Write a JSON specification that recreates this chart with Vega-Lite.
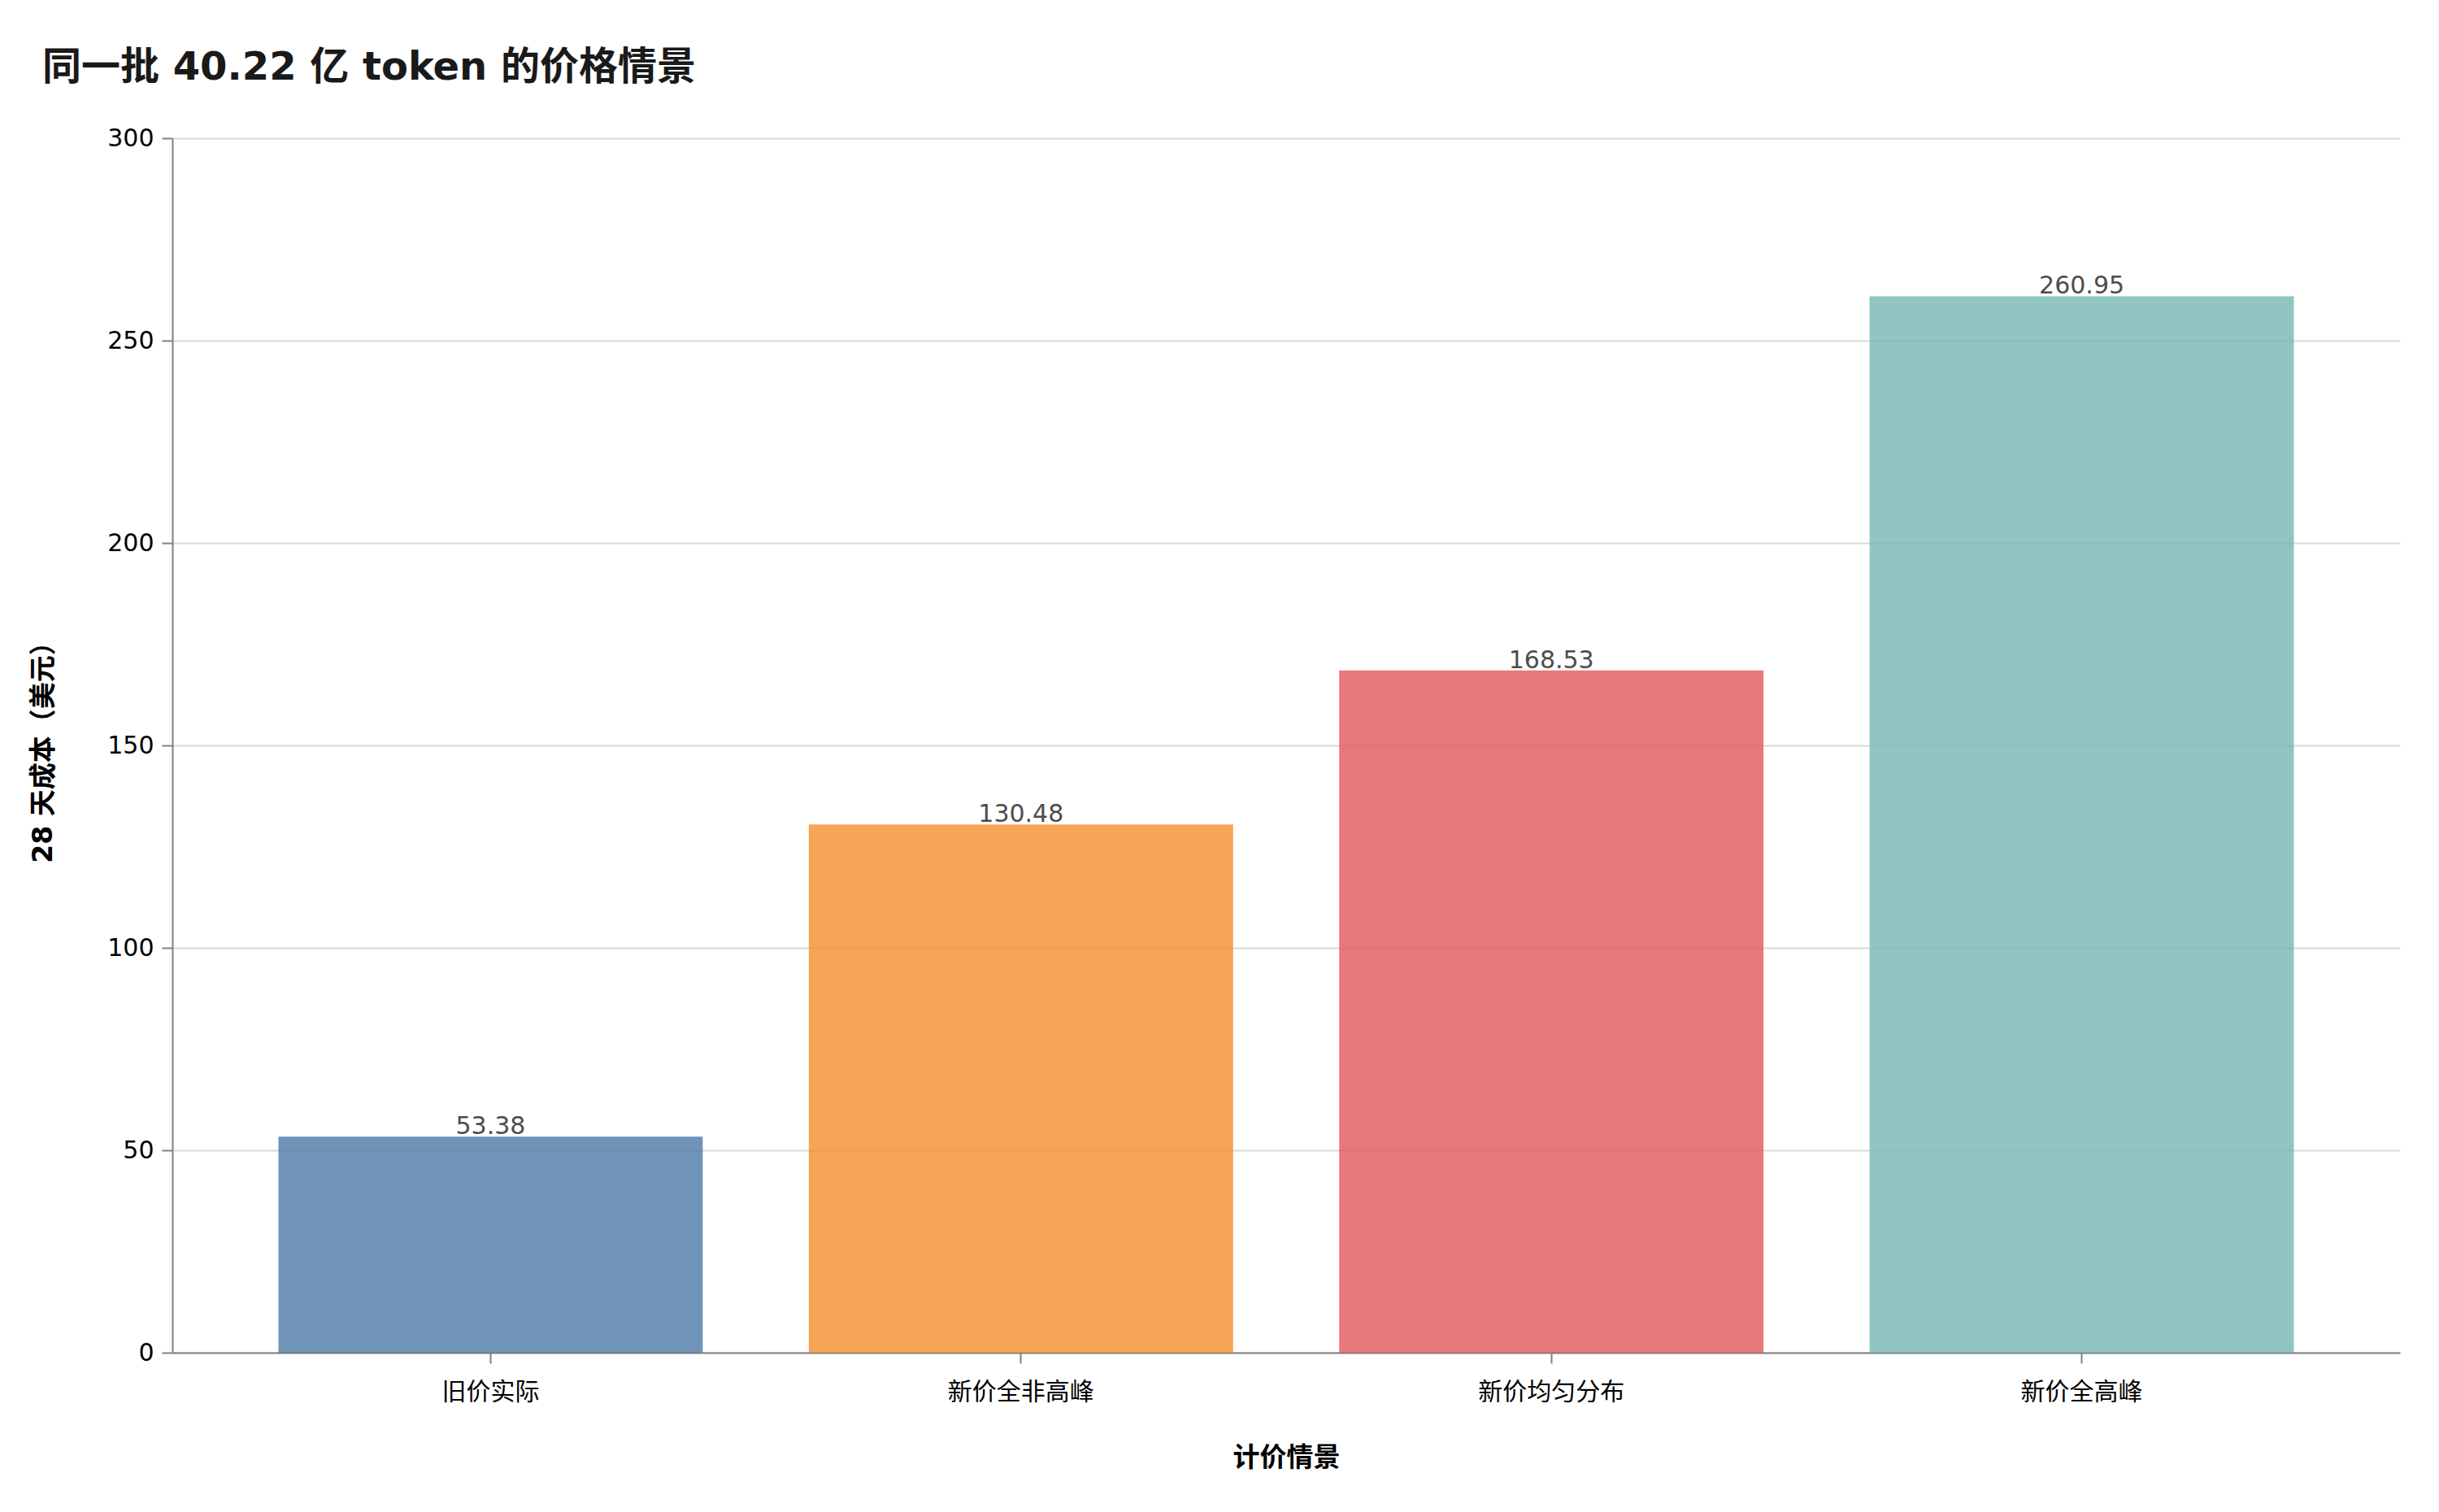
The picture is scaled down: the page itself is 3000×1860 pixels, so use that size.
{
  "$schema": "https://vega.github.io/schema/vega-lite/v6.json",
  "width": 2740,
  "height": 1494,
  "autosize": {"type": "none"},
  "padding": {"left": 212, "top": 170, "right": 48, "bottom": 196},
  "background": "white",
  "title": {
    "text": "同一批 40.22 亿 token 的价格情景",
    "anchor": "start",
    "frame": "group",
    "dx": -160,
    "offset": 47,
    "font": "DejaVu Sans, Noto Sans CJK SC",
    "fontSize": 48,
    "fontWeight": "bold",
    "color": "#1a1a1a"
  },
  "data": {
    "values": [
      {"scenario": "旧价实际", "cost": 53.38, "colour": "#4e79a7"},
      {"scenario": "新价全非高峰", "cost": 130.48, "colour": "#f28e2b"},
      {"scenario": "新价均匀分布", "cost": 168.53, "colour": "#e15759"},
      {"scenario": "新价全高峰", "cost": 260.95, "colour": "#76b7b2"}
    ]
  },
  "encoding": {
    "x": {
      "field": "scenario",
      "type": "nominal",
      "sort": null,
      "title": "计价情景",
      "scale": {"paddingInner": 0.2, "paddingOuter": 0.2},
      "axis": {
        "labelAngle": 0,
        "labelFontSize": 30,
        "labelPadding": 20,
        "titleFontSize": 33,
        "titlePadding": 50,
        "tickSize": 13
      }
    },
    "y": {
      "field": "cost",
      "type": "quantitative",
      "title": "28 天成本（美元）",
      "scale": {"domain": [0, 300], "nice": false},
      "axis": {
        "values": [0, 50, 100, 150, 200, 250, 300],
        "labelFontSize": 30,
        "labelPadding": 10,
        "titleFontSize": 33,
        "titlePadding": 61,
        "tickSize": 13,
        "grid": true
      }
    }
  },
  "layer": [
    {
      "mark": {"type": "bar", "opacity": 0.8},
      "encoding": {
        "color": {"field": "colour", "type": "nominal", "scale": null}
      }
    },
    {
      "mark": {
        "type": "text",
        "baseline": "bottom",
        "dy": 3,
        "fontSize": 30,
        "color": "#4d4d4d",
        "font": "DejaVu Sans, Noto Sans CJK SC"
      },
      "encoding": {
        "text": {"field": "cost", "type": "quantitative", "format": ".2f"}
      }
    }
  ],
  "config": {
    "view": {"stroke": null},
    "font": "DejaVu Sans, Noto Sans CJK SC",
    "axis": {
      "labelColor": "#000000",
      "titleColor": "#000000",
      "titleFontWeight": "bold",
      "labelFont": "DejaVu Sans, Noto Sans CJK SC",
      "titleFont": "DejaVu Sans, Noto Sans CJK SC",
      "domainColor": "#808080",
      "domainWidth": 2,
      "tickColor": "#808080",
      "tickWidth": 2,
      "gridColor": "#d9d9d9",
      "gridWidth": 2
    },
    "axisX": {"grid": false}
  }
}
